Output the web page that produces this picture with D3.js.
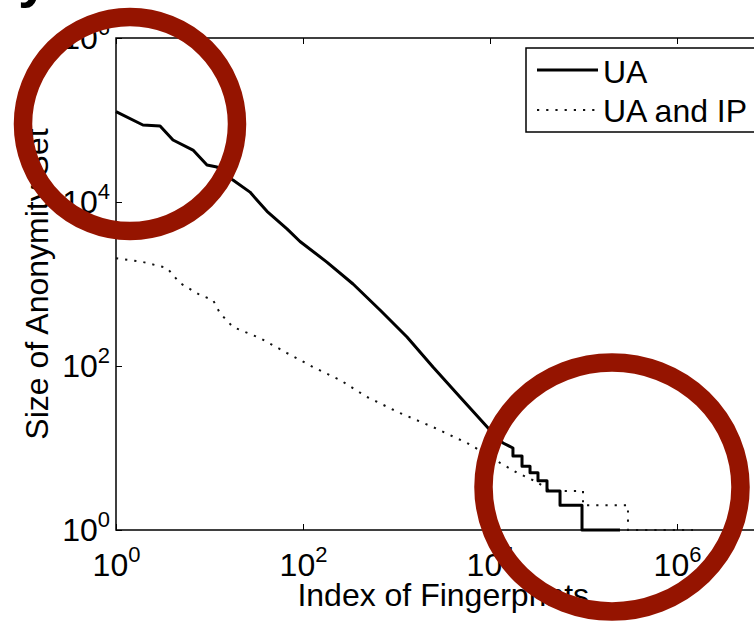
<!DOCTYPE html>
<html>
<head>
<meta charset="utf-8">
<script src="https://cdn.jsdelivr.net/npm/d3@7"></script>
<style>
  html, body { margin: 0; padding: 0; background: #fff; overflow: hidden; }
  svg { display: block; }
  text { font-family: "Liberation Sans", Arial, Helvetica, sans-serif; fill: #000; }
</style>
</head>
<body>
<svg id="chart" width="754" height="624"></svg>
<script>
// ---- data ----
const xTickValues = [1, 1e2, 1e4, 1e6];
const yTickValues = [1, 1e2, 1e4, 1e6];
const seriesNames = ["UA", "UA and IP"];

// UA: index of fingerprint (rank) vs size of anonymity set
const uaIndex = [1, 1.94, 2.96, 4.07, 6.66, 9.4, 12.0, 17.8, 27.1, 41.2, 67.4, 92.9, 180, 343, 666, 1295, 2455, 4775, 9980, 13770,
  17600, 17600, 22000, 22000, 26800, 26800, 32600, 32600, 40700, 40700, 56100, 56100, 96400, 96400, 245500];
const uaSize = [126200, 86900, 84600, 57000, 43000, 28200, 26700, 18500, 13200, 7700, 4700, 3300, 1850, 1000, 482, 226, 97, 41.9, 16.6, 11.5,
  10, 8, 8, 6, 6, 5, 5, 4, 4, 3, 3, 2, 2, 1, 1];

// UA and IP
const uaIpIndex = [1, 1.94, 3.51, 4.83, 7.91, 10.9, 12.9, 17.8, 34.7, 67.4, 128, 249, 483, 1090, 2455, 5675, 8420, 12800, 19400, 31800,
  43800, 98800, 98800, 299000, 299000, 1483000];
const uaIpSize = [2058, 1855, 1567, 1028, 735, 638, 443, 299, 219, 144, 97.2, 67.5, 41.9, 26.7, 18.0, 11.5, 8.9, 6.6, 5.0, 3.85,
  3, 3, 2, 2, 1, 1];

// ---- layout ----
const svg = d3.select("#chart");
const mLeft = 116, mRight = 770.5, mTop = 38, mBottom = 530;
const FONT = 32, SUP = 22;

const x = d3.scaleLog().domain([1, 1e7]).range([mLeft, mRight]);
const y = d3.scaleLog().domain([1, 1e6]).range([mBottom, mTop]);

// partial title glyph at the top-left (only its descender is visible)
svg.append("text").attr("x", 18).attr("y", -4)
  .style("font-size", "56px").style("font-weight", "bold").text("y");

function supLabel(sel) {
  sel.each(function(d) {
    const t = d3.select(this);
    const e = Math.round(Math.log10(d));
    t.text(null);
    t.append("tspan").text("10");
    t.append("tspan").attr("dy", -14).style("font-size", SUP + "px").text(e);
  });
}

// axes
const gx = svg.append("g").attr("transform", `translate(0,${mBottom})`)
  .call(d3.axisBottom(x).tickValues(xTickValues).tickSize(-6).tickFormat(() => ""));
gx.select(".domain").remove();
gx.selectAll(".tick line").attr("stroke", "#000").attr("stroke-width", 1);
gx.selectAll(".tick text").attr("y", 23).attr("dy", "0.71em").style("font-size", FONT + "px").call(supLabel);

const gxTop = svg.append("g").attr("transform", `translate(0,${mTop})`)
  .call(d3.axisTop(x).tickValues(xTickValues).tickSize(-6).tickFormat(() => ""));
gxTop.select(".domain").remove();
gxTop.selectAll("text").remove();
gxTop.selectAll(".tick line").attr("stroke", "#000");

const gy = svg.append("g").attr("transform", `translate(${mLeft},0)`)
  .call(d3.axisLeft(y).tickValues(yTickValues).tickSize(-6).tickFormat(() => ""));
gy.select(".domain").remove();
gy.selectAll(".tick line").attr("stroke", "#000");
gy.selectAll(".tick text").attr("x", -6).attr("dy", "0.32em").style("font-size", FONT + "px").call(supLabel);

// frame
svg.append("rect").attr("x", mLeft).attr("y", mTop).attr("width", mRight - mLeft).attr("height", mBottom - mTop)
  .attr("fill", "none").attr("stroke", "#000").attr("stroke-width", 1.5);

// axis titles
svg.append("text").attr("x", (mLeft + mRight) / 2).attr("y", 606).attr("text-anchor", "middle")
  .style("font-size", FONT + "px").text("Index of Fingerprints");
svg.append("text").attr("transform", `translate(48,${(mTop + mBottom) / 2}) rotate(-90)`)
  .attr("text-anchor", "middle").style("font-size", FONT + "px").text("Size of Anonymity Set");

// lines
const line = d3.line().x(d => x(d[0])).y(d => y(d[1]));
const uaData = uaIndex.map((v, i) => [v, uaSize[i]]);
const ipData = uaIpIndex.map((v, i) => [v, uaIpSize[i]]);

svg.append("path").datum(ipData).attr("d", line).attr("fill", "none")
  .attr("stroke", "#111").attr("stroke-width", 2).attr("stroke-dasharray", "2.2,7");
svg.append("path").datum(uaData).attr("d", line).attr("fill", "none")
  .attr("stroke", "#000").attr("stroke-width", 3).attr("stroke-linejoin", "round");

// legend
const lg = svg.append("g");
lg.append("rect").attr("x", 526).attr("y", 48).attr("width", 240).attr("height", 84)
  .attr("fill", "#fff").attr("stroke", "#000").attr("stroke-width", 1.5);
const legendRows = [
  { name: seriesNames[0], ly: 70, ty: 83, dash: null, w: 3 },
  { name: seriesNames[1], ly: 110, ty: 122, dash: "2.2,7", w: 2 }
];
legendRows.forEach(r => {
  lg.append("line").attr("x1", 537).attr("x2", 598).attr("y1", r.ly).attr("y2", r.ly)
    .attr("stroke", r.dash ? "#111" : "#000").attr("stroke-width", r.w)
    .attr("stroke-dasharray", r.dash);
  lg.append("text").attr("x", 603).attr("y", r.ty).style("font-size", FONT + "px").text(r.name);
});

// red annotation circles
const red = "#951400";
svg.append("ellipse").attr("cx", 130).attr("cy", 124).attr("rx", 107).attr("ry", 107)
  .attr("fill", "none").attr("stroke", red).attr("stroke-width", 18.5);
svg.append("ellipse").attr("cx", 612).attr("cy", 487).attr("rx", 128.5).attr("ry", 124.5)
  .attr("fill", "none").attr("stroke", red).attr("stroke-width", 18.5);
</script>
</body>
</html>
